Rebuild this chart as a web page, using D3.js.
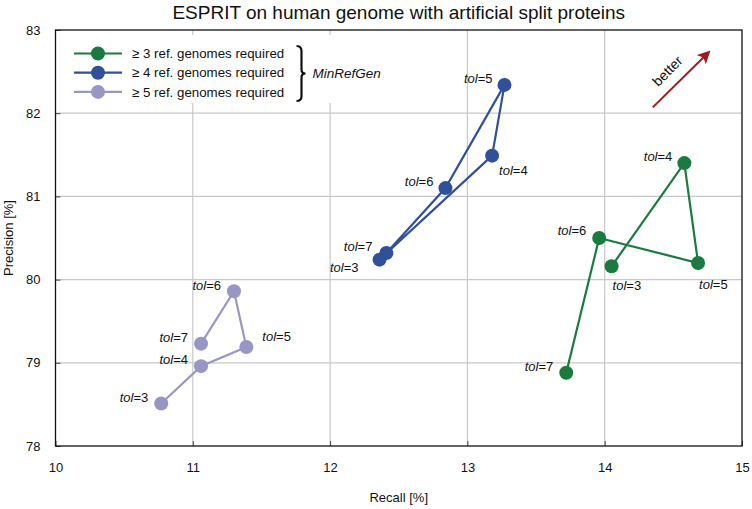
<!DOCTYPE html>
<html>
<head>
<meta charset="utf-8">
<script src="https://cdn.jsdelivr.net/npm/d3@7"></script>
<style>
  body { margin: 0; background: #fff; }
  svg { font-family: "Liberation Sans", Arial, sans-serif; }
</style>
</head>
<body>
<script>
// données
const tolValues = [3, 4, 5, 6, 7];
const seriesNames = ["≥ 3 ref. genomes required", "≥ 4 ref. genomes required", "≥ 5 ref. genomes required"];
const recall3 = [14.05, 14.58, 14.68, 13.96, 13.72];
const precision3 = [80.16, 81.40, 80.20, 80.50, 78.88];
const recall4 = [12.36, 13.18, 13.27, 12.84, 12.41];
const precision4 = [80.24, 81.49, 82.34, 81.10, 80.32];
const recall5 = [10.77, 11.06, 11.39, 11.30, 11.06];
const precision5 = [78.51, 78.96, 79.19, 79.86, 79.23];
const xTicks = [10, 11, 12, 13, 14, 15];
const yTicks = [78, 79, 80, 81, 82, 83];

const colors = ["#1b7b3f", "#30509a", "#9896c4"];

// placement des étiquettes tol=… (ancre, dx, dy) pour chaque point
const labelPos = [
  [["start", 1, 24], ["end", -12, -2], ["start", 1, 26], ["end", -13, -3], ["end", -13, -2]],
  [["end", -21, 12], ["start", 7, 19], ["end", -12, -2], ["end", -12, -2], ["end", -14, -2]],
  [["end", -13, -2], ["end", -13, -2], ["start", 16, -6], ["end", -13, -1], ["end", -13, -2]]
];

const series = [
  { name: seriesNames[0], recall: recall3, precision: precision3 },
  { name: seriesNames[1], recall: recall4, precision: precision4 },
  { name: seriesNames[2], recall: recall5, precision: precision5 }
];

const W = 752, H = 509;
const margin = { top: 30, right: 10, bottom: 63, left: 55.5 };
const width = W - margin.left - margin.right;
const height = H - margin.top - margin.bottom;

const svg = d3.select("body").append("svg")
  .attr("width", W)
  .attr("height", H);

const g = svg.append("g")
  .attr("transform", "translate(" + margin.left + "," + margin.top + ")");

const x = d3.scaleLinear().domain([10, 15]).range([0, width]);
const y = d3.scaleLinear().domain([78, 83]).range([height, 0]);

// grille
g.append("g")
  .selectAll("line")
  .data(xTicks.slice(1, -1))
  .enter().append("line")
  .attr("x1", d => x(d)).attr("x2", d => x(d))
  .attr("y1", 0).attr("y2", height)
  .attr("stroke", "#c8c8c8").attr("stroke-width", 1.2);

g.append("g")
  .selectAll("line")
  .data(yTicks.slice(1, -1))
  .enter().append("line")
  .attr("y1", d => y(d)).attr("y2", d => y(d))
  .attr("x1", 0).attr("x2", width)
  .attr("stroke", "#c8c8c8").attr("stroke-width", 1.2);

// axes (graduations vers l'intérieur)
const xAxis = g.append("g")
  .attr("transform", "translate(0," + height + ")")
  .call(d3.axisBottom(x).tickValues(xTicks).tickFormat(d3.format("d")).tickSizeInner(-5).tickSizeOuter(0).tickPadding(17));
const yAxis = g.append("g")
  .call(d3.axisLeft(y).tickValues(yTicks).tickFormat(d3.format("d")).tickSizeInner(-5).tickSizeOuter(0).tickPadding(15));

[xAxis, yAxis].forEach(a => {
  a.select(".domain").remove();
  a.selectAll(".tick line").attr("stroke", "#444");
  a.selectAll("text").style("font-size", "13px").attr("fill", "#111");
});

// cadre
g.append("rect")
  .attr("width", width).attr("height", height)
  .attr("fill", "none").attr("stroke", "#111").attr("stroke-width", 1.3);

// fond blanc de la légende
g.append("rect")
  .attr("x", 1.5).attr("y", 5)
  .attr("width", 330).attr("height", 68)
  .attr("fill", "#fff");

// séries
series.forEach((s, i) => {
  const pts = tolValues.map((t, k) => ({ tol: t, r: s.recall[k], p: s.precision[k], pos: labelPos[i][k] }));

  g.append("path")
    .datum(pts)
    .attr("fill", "none")
    .attr("stroke", colors[i])
    .attr("stroke-width", 2.2)
    .attr("d", d3.line().x(d => x(d.r)).y(d => y(d.p)));

  g.selectAll(".pt" + i)
    .data(pts)
    .enter().append("circle")
    .attr("class", "pt" + i)
    .attr("cx", d => x(d.r))
    .attr("cy", d => y(d.p))
    .attr("r", 7)
    .attr("fill", colors[i]);

  const lab = g.selectAll(".lab" + i)
    .data(pts)
    .enter().append("text")
    .attr("class", "lab" + i)
    .attr("x", d => x(d.r) + d.pos[1])
    .attr("y", d => y(d.p) + d.pos[2])
    .attr("text-anchor", d => d.pos[0])
    .style("font-size", "13px")
    .attr("fill", "#111");
  lab.append("tspan").style("font-style", "italic").text("tol");
  lab.append("tspan").text(d => "=" + d.tol);
});

// légende
const legend = g.append("g").attr("transform", "translate(18.5,23.5)");
seriesNames.forEach((name, i) => {
  const row = legend.append("g").attr("transform", "translate(0," + (i * 19.2) + ")");
  row.append("line").attr("x1", 0).attr("x2", 48).attr("stroke", colors[i]).attr("stroke-width", 2.2);
  row.append("circle").attr("cx", 24).attr("r", 7).attr("fill", colors[i]);
  row.append("text").attr("x", 58).attr("dy", "0.35em")
    .style("font-size", "13.3px").attr("fill", "#111").text(name);
});

// accolade + MinRefGen
const bx = 241, by0 = 16, by1 = 71, bm = (by0 + by1) / 2;
g.append("path")
  .attr("d", "M" + bx + "," + by0 + " q5,0 5,5 v" + (bm - by0 - 9) + " q0,4 4,4 q-4,0 -4,4 v" + (by1 - bm - 9) + " q0,5 -5,5")
  .attr("fill", "none").attr("stroke", "#111").attr("stroke-width", 2.2);
g.append("text")
  .attr("x", 257).attr("y", bm).attr("dy", "0.35em")
  .style("font-size", "13.5px").style("font-style", "italic").attr("fill", "#111")
  .text("MinRefGen");

// flèche "better"
svg.append("defs").append("marker")
  .attr("id", "arrow").attr("viewBox", "0 0 10 10")
  .attr("refX", 7).attr("refY", 5)
  .attr("markerWidth", 6.5).attr("markerHeight", 6.5)
  .attr("orient", "auto")
  .append("path").attr("d", "M0,0 L10,5 L0,10 L2.5,5 z").attr("fill", "#9b1c20");

const ax0 = x(14.35), ay0 = y(82.07), ax1 = x(14.75), ay1 = y(82.72);
g.append("line")
  .attr("x1", ax0).attr("y1", ay0).attr("x2", ax1).attr("y2", ay1)
  .attr("stroke", "#9b1c20").attr("stroke-width", 2)
  .attr("marker-end", "url(#arrow)");
g.append("text")
  .attr("transform", "translate(" + (667.5 - margin.left) + "," + (71 - margin.top) + ") rotate(-45)")
  .attr("text-anchor", "middle").attr("dy", "0.35em")
  .style("font-size", "14px").attr("fill", "#111")
  .text("better");

// titres
svg.append("text")
  .attr("x", margin.left + width / 2).attr("y", 12).attr("dy", "0.35em")
  .attr("text-anchor", "middle").style("font-size", "19px").attr("fill", "#111")
  .text("ESPRIT on human genome with artificial split proteins");

svg.append("text")
  .attr("x", margin.left + width / 2).attr("y", 497).attr("dy", "0.35em")
  .attr("text-anchor", "middle").style("font-size", "13px").attr("fill", "#111")
  .text("Recall [%]");

svg.append("text")
  .attr("transform", "translate(8.5," + (margin.top + height / 2) + ") rotate(-90)")
  .attr("text-anchor", "middle").attr("dy", "0.35em")
  .style("font-size", "13px").attr("fill", "#111")
  .text("Precision [%]");
</script>
</body>
</html>
